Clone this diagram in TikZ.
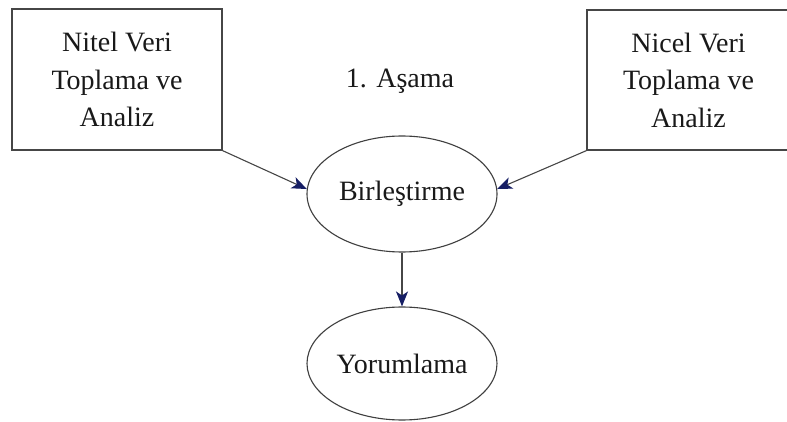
\documentclass[tikz,border=0pt]{standalone}
\usepackage{fontspec}
\setmainfont{Liberation Serif}
\usetikzlibrary{arrows.meta,shapes.geometric}
\definecolor{linegray}{RGB}{70,70,70}
\definecolor{tipnavy}{RGB}{22,30,100}
\begin{document}
\begin{tikzpicture}[x=1pt,y=-1pt,
  every node/.style={font=\fontsize{28}{37.5}\selectfont, text=black!90},
  databox/.style={draw=linegray, line width=1.3pt, rectangle, align=center, inner sep=0pt},
  stagebox/.style={draw=linegray!90!black, line width=1.1pt, ellipse, inner sep=0pt},
  link/.style={draw=linegray, line width=1.1pt, -{Stealth[color=tipnavy,fill=tipnavy,length=15pt,width=12pt,inset=4pt]}}
]
\useasboundingbox (0,0) rectangle (787,422);
\fill[white] (0,0) rectangle (787,422);
\node[databox, minimum width=210pt, minimum height=141pt] (nitel) at (117,79.5) {Nitel Veri\\Toplama ve\\Analiz};
\node[databox, minimum width=203pt, minimum height=140pt] (nicel) at (688.5,80) {Nicel Veri\\Toplama ve\\Analiz};
\node[anchor=base] (asama) at (400,88) {1. Aşama};
\node[stagebox, minimum width=190pt, minimum height=116pt] (birles) at (402,194) {Birleştirme};
\node[stagebox, minimum width=190pt, minimum height=113pt] (yorum) at (402,363.5) {Yorumlama};
\draw[link] (nitel.south east) -- (birles.177);
\draw[link] (nicel.south west) -- (birles.3);
\draw[link] (birles.south) -- (yorum.north);
\end{tikzpicture}
\end{document}
